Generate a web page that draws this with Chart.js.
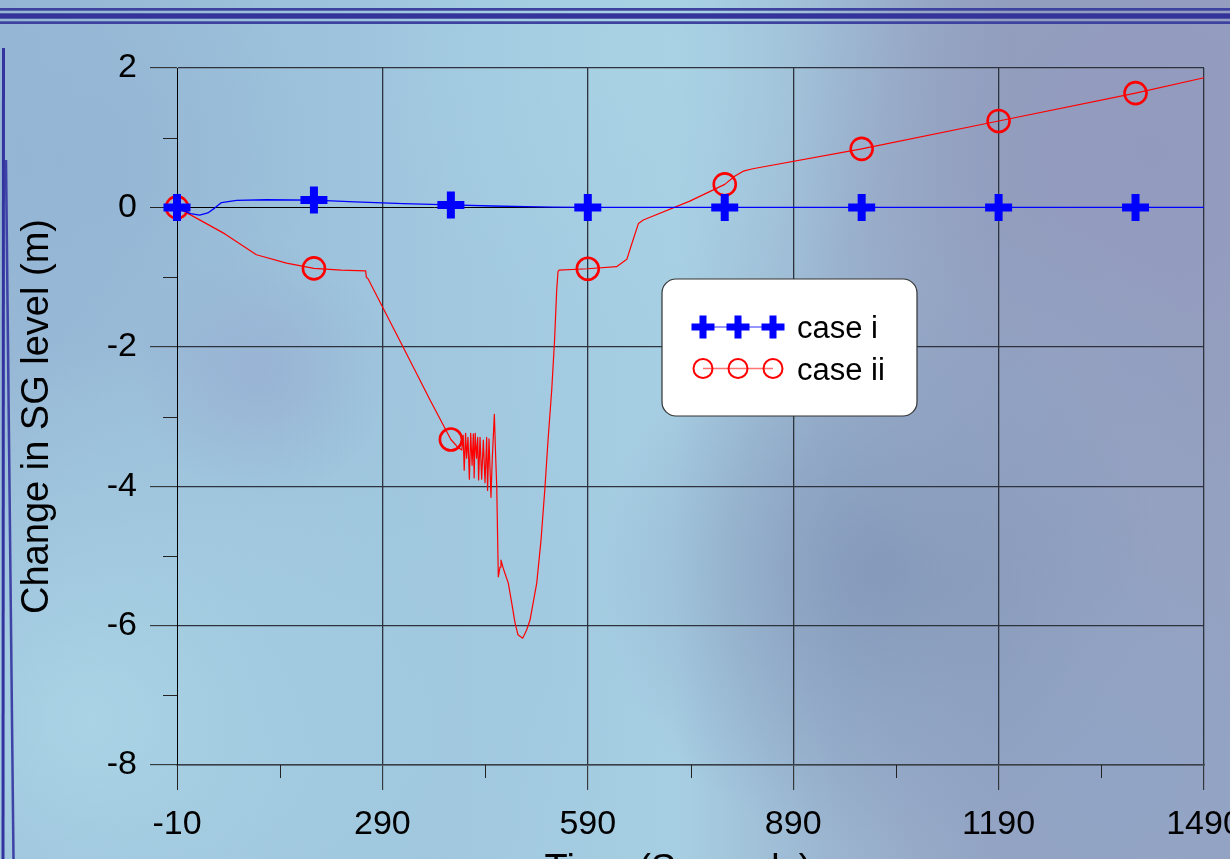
<!DOCTYPE html>
<html>
<head>
<meta charset="utf-8">
<script src="https://cdn.jsdelivr.net/npm/chart.js@4.4.1/dist/chart.umd.min.js"></script>
<style>
  html, body { margin: 0; padding: 0; overflow: hidden; background: #9ec3dc; }
  #wrap { width: 1230px; height: 859px; }
</style>
</head>
<body>
<div id="wrap"><canvas id="c" width="1230" height="859"></canvas></div>
<script>
// SG level response for the two cases (time in s, level change in m)
const caseITime  = [-10, 0, 10, 23, 35, 45, 55, 77, 120, 190, 250, 320, 390, 450, 500, 540, 590, 790, 990, 1190, 1390, 1490];
const caseIValue = [0, -0.05, -0.09, -0.11, -0.08, -0.01, 0.07, 0.10, 0.11, 0.105, 0.08, 0.055, 0.035, 0.02, 0.01, 0.003, 0, 0, 0, 0, 0, 0];

const caseIITime = [-10, 60, 106, 150, 190, 230, 265.6, 266.5, 269.4, 320, 360, 390, 400, 406,
  408, 409.5, 411.5, 413, 415, 417, 419, 421, 422.8, 424, 425.5, 427.5, 429.2, 430.5, 432.6, 435,
  437.4, 439.9, 442.3, 443.6, 445.7, 448.6, 450.5, 453.5, 455.5, 457, 459.3, 461.8, 463.2, 466.6,
  473.9, 479.3, 483.7, 488, 494.9, 500.8, 505.6, 515.4, 521.7, 527.5, 531.9, 537.3, 541.5, 544.5,
  546.5, 548, 590, 632, 647, 655, 664, 671, 739, 790, 805, 817, 831, 990, 1190, 1390, 1490];
const caseIIValue = [0, -0.38, -0.68, -0.80, -0.875, -0.90, -0.91, -1.0, -1.03, -2.0, -2.77, -3.33, -3.44, -3.48,
  -3.27, -3.77, -3.24, -3.6, -3.3, -3.9, -3.24, -3.7, -3.25, -3.88, -3.24, -3.6, -3.3, -3.91, -3.3, -3.9,
  -3.34, -3.95, -3.3, -4.06, -3.32, -4.16, -3.6, -2.97, -3.6, -4.0, -5.3, -5.16, -5.06, -5.18,
  -5.39, -5.7, -5.96, -6.13, -6.18, -6.06, -5.92, -5.39, -4.77, -4.01, -3.34, -2.62, -1.9, -1.2,
  -0.92, -0.9, -0.88, -0.85, -0.745, -0.5, -0.23, -0.18, 0.09, 0.33, 0.45, 0.52, 0.555, 0.84, 1.24, 1.64, 1.86];

// times at which the series symbols are plotted
const markerTimes = [-10, 190, 390, 590, 790, 990, 1190, 1390];

const seriesNames = ['case i', 'case ii'];
const xTickValues = [-10, 290, 590, 890, 1190, 1490];
const xMinorTicks = [140, 440, 740, 1040, 1340];
const yTickValues = [-8, -6, -4, -2, 0, 2];
const yMinorTicks = [-7, -5, -3, -1, 1];
const xTitle = 'Time (Seconds)';
const yTitle = 'Change in SG level (m)';

const FONT = '"Liberation Sans", Arial, Helvetica, sans-serif';
const BLUE = '#0000ff';
const RED = '#ff0000';

const toPoints = (xs, ys) => xs.map((x, i) => ({ x: x, y: ys[i] }));
const markerRadius = r => ctx => (ctx.raw && markerTimes.includes(ctx.raw.x)) ? r : 0;

// slide backdrop: soft blue/lavender wash with the banded frame
const backdrop = {
  id: 'backdrop',
  beforeDraw(chart) {
    const { ctx, width, height } = chart;
    ctx.save();
    const g = ctx.createLinearGradient(0, 0, width, 0);
    g.addColorStop(0, '#97b7d5');
    g.addColorStop(0.3, '#9ec5dd');
    g.addColorStop(0.55, '#a7cfe3');
    g.addColorStop(0.68, '#9bb4cf');
    g.addColorStop(0.82, '#93a1c0');
    g.addColorStop(1, '#95a1c1');
    ctx.fillStyle = g;
    ctx.fillRect(0, 0, width, height);

    const blob = (x, y, r, color) => {
      const rg = ctx.createRadialGradient(x, y, 0, x, y, r);
      rg.addColorStop(0, color);
      rg.addColorStop(1, color.replace(/[\d.]+\)$/, '0)'));
      ctx.fillStyle = rg;
      ctx.fillRect(x - r, y - r, 2 * r, 2 * r);
    };
    blob(90, 720, 380, 'rgba(172,216,232,0.85)');
    blob(420, 620, 260, 'rgba(160,200,222,0.6)');
    blob(650, 60, 280, 'rgba(170,212,230,0.6)');
    blob(880, 570, 280, 'rgba(130,150,184,0.85)');
    blob(1120, 780, 260, 'rgba(144,166,200,0.7)');
    blob(1150, 150, 360, 'rgba(146,152,188,0.75)');
    blob(1020, 400, 200, 'rgba(146,164,196,0.5)');
    blob(260, 370, 130, 'rgba(150,165,205,0.5)');
    blob(80, 160, 240, 'rgba(145,178,210,0.6)');

    // top banding
    ctx.fillStyle = '#3d41a0';
    ctx.fillRect(0, 8, width, 2.7);
    ctx.fillStyle = '#333399';
    ctx.fillRect(0, 13.3, width, 5.4);
    ctx.fillStyle = '#3d41a0';
    ctx.fillRect(0, 21.3, width, 2.7);

    // left rules
    ctx.strokeStyle = '#3434a0';
    ctx.lineWidth = 3;
    ctx.beginPath();
    ctx.moveTo(3.5, 48); ctx.lineTo(3, height);
    ctx.stroke();
    ctx.lineWidth = 2.5;
    ctx.strokeStyle = 'rgba(52,52,160,0.9)';
    ctx.beginPath();
    ctx.moveTo(6, 160); ctx.lineTo(13.5, height);
    ctx.stroke();
    ctx.restore();
  }
};

// short minor tick marks between the labelled ticks
const minorTicks = {
  id: 'minorTicks',
  afterDraw(chart) {
    const { ctx } = chart;
    const xs = chart.scales.x, ys = chart.scales.y;
    ctx.save();
    ctx.strokeStyle = '#222';
    ctx.lineWidth = 1;
    ctx.beginPath();
    xMinorTicks.forEach(v => {
      const px = Math.round(xs.getPixelForValue(v)) + 0.5;
      ctx.moveTo(px, ys.bottom); ctx.lineTo(px, ys.bottom + 13);
    });
    yMinorTicks.forEach(v => {
      const py = Math.round(ys.getPixelForValue(v)) + 0.5;
      ctx.moveTo(xs.left - 14, py); ctx.lineTo(xs.left, py);
    });
    ctx.stroke();
    ctx.restore();
  }
};

// x-axis caption under the tick labels
const xAxisCaption = {
  id: 'xAxisCaption',
  afterDraw(chart) {
    const { ctx } = chart;
    ctx.save();
    ctx.font = '38px ' + FONT;
    ctx.fillStyle = '#000';
    ctx.textAlign = 'center';
    ctx.textBaseline = 'alphabetic';
    ctx.fillText(xTitle, 678, 881);
    ctx.restore();
  }
};

// boxed key with three symbols per series
const keyBox = {
  id: 'keyBox',
  afterDraw(chart) {
    const { ctx } = chart;
    const bx = 662, by = 279, bw = 255, bh = 137, r = 14;
    ctx.save();
    ctx.beginPath();
    ctx.moveTo(bx + r, by);
    ctx.arcTo(bx + bw, by, bx + bw, by + bh, r);
    ctx.arcTo(bx + bw, by + bh, bx, by + bh, r);
    ctx.arcTo(bx, by + bh, bx, by, r);
    ctx.arcTo(bx, by, bx + bw, by, r);
    ctx.closePath();
    ctx.fillStyle = '#ffffff';
    ctx.fill();
    ctx.strokeStyle = '#333';
    ctx.lineWidth = 1.2;
    ctx.stroke();

    const rows = [
      { y: 327, color: BLUE, line: 'rgba(0,0,255,0.55)', style: 'cross', radius: 11.5, width: 7, base: 338 },
      { y: 368.5, color: RED, line: 'rgba(255,0,0,0.55)', style: 'circle', radius: 9.5, width: 2, base: 380 }
    ];
    const xs = [703, 738, 773];
    rows.forEach((row, i) => {
      ctx.strokeStyle = row.line;
      ctx.lineWidth = 1.5;
      ctx.beginPath();
      ctx.moveTo(xs[0], row.y); ctx.lineTo(xs[2], row.y);
      ctx.stroke();
      ctx.strokeStyle = row.color;
      ctx.fillStyle = 'rgba(0,0,0,0)';
      ctx.lineWidth = row.width;
      xs.forEach(x => {
        Chart.helpers.drawPoint(ctx, { pointStyle: row.style, radius: row.radius, borderWidth: row.width, rotation: 0 }, x, row.y);
      });
      ctx.fillStyle = '#000';
      ctx.font = '31px ' + FONT;
      ctx.textAlign = 'left';
      ctx.textBaseline = 'alphabetic';
      ctx.fillText(seriesNames[i], 797, row.base);
    });
    ctx.restore();
  }
};

const gridColor = '#2c333c';

new Chart(document.getElementById('c'), {
  type: 'line',
  data: {
    datasets: [
      {
        label: seriesNames[0],
        data: toPoints(caseITime, caseIValue),
        borderColor: BLUE,
        borderWidth: 1.3,
        borderJoinStyle: 'round',
        tension: 0,
        pointStyle: 'cross',
        pointRadius: markerRadius(13.5),
        pointHoverRadius: markerRadius(13.5),
        pointBorderWidth: 8,
        pointBorderColor: BLUE,
        pointBackgroundColor: BLUE,
        clip: false
      },
      {
        label: seriesNames[1],
        data: toPoints(caseIITime, caseIIValue),
        borderColor: RED,
        borderWidth: 1.2,
        borderJoinStyle: 'round',
        tension: 0,
        pointStyle: 'circle',
        pointRadius: markerRadius(11),
        pointHoverRadius: markerRadius(11),
        pointBorderWidth: 2.6,
        pointBorderColor: RED,
        pointBackgroundColor: 'rgba(0,0,0,0)',
        clip: false
      }
    ]
  },
  options: {
    responsive: false,
    animation: false,
    devicePixelRatio: 1,
    events: [],
    layout: { padding: { left: 0, top: 68, right: 26, bottom: 0 } },
    plugins: { legend: { display: false }, tooltip: { enabled: false } },
    scales: {
      x: {
        type: 'linear',
        min: -10,
        max: 1490,
        afterBuildTicks: s => { s.ticks = xTickValues.map(v => ({ value: v })); },
        afterFit: s => { s.height = 94; s.paddingLeft = 0; s.paddingRight = 0; },
        ticks: {
          autoSkip: false, maxRotation: 0, minRotation: 0, padding: 14,
          color: '#000', font: { family: FONT, size: 34 },
          callback: v => String(v)
        },
        grid: {
          color: c => (c.tick && c.tick.value === -10) ? '#000' : gridColor,
          lineWidth: c => (c.tick && c.tick.value === -10) ? 1 : 1.3,
          tickLength: 25, tickColor: '#222', tickWidth: 1
        },
        border: { color: '#3a4048', width: 1.5 }
      },
      y: {
        type: 'linear',
        min: -8,
        max: 2,
        afterBuildTicks: s => { s.ticks = yTickValues.map(v => ({ value: v })); },
        afterFit: s => { s.width = 177; },
        ticks: {
          padding: 13, color: '#000', font: { family: FONT, size: 34 },
          callback: v => String(v)
        },
        grid: {
          color: c => (c.tick && c.tick.value === 0) ? '#000' : gridColor,
          lineWidth: c => (c.tick && c.tick.value === 0) ? 1 : 1.3,
          tickLength: 27, tickColor: '#222', tickWidth: 1
        },
        border: { color: '#000', width: 1 },
        title: {
          display: true, text: yTitle, color: '#000',
          font: { family: FONT, size: 38 },
          padding: { top: 15, bottom: 0 }
        }
      }
    }
  },
  plugins: [backdrop, minorTicks, keyBox, xAxisCaption]
});
</script>
</body>
</html>
